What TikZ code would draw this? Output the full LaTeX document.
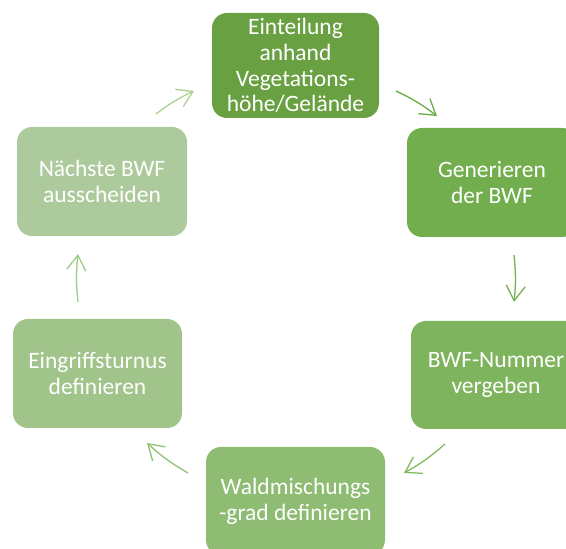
\documentclass[tikz,border=0pt]{standalone}
\usepackage{fontspec}
\setmainfont{Carlito}
\usetikzlibrary{arrows.meta}
\definecolor{bA}{HTML}{69A042}
\definecolor{bB}{HTML}{72AD4E}
\definecolor{bC}{HTML}{7FB45E}
\definecolor{bD}{HTML}{8EBC73}
\definecolor{bE}{HTML}{A0C48A}
\definecolor{bF}{HTML}{ADCA9D}
\definecolor{aA}{HTML}{6AAD45}
\definecolor{aB}{HTML}{74B24F}
\definecolor{aC}{HTML}{80BA60}
\definecolor{aD}{HTML}{8EC272}
\definecolor{aE}{HTML}{A0CB87}
\definecolor{aF}{HTML}{AAD18F}
\tikzset{
  stepbox/.style={rounded corners=15pt, text=white, align=center, inner sep=0pt,
    font=\fontsize{23.5}{25.8}\selectfont},
  cyc/.style={line width=1.3pt, -{Straight Barb[length=15pt,width=19pt,line width=1.3pt]}, bend left=6}
}
\begin{document}
\begin{tikzpicture}[x=1pt,y=1pt]
\useasboundingbox (0,0) rectangle (566,549);
\clip (0,0) rectangle (566,549);
\fill[white] (0,0) rectangle (566,549);
\node[stepbox, fill=bA, minimum width=167pt, minimum height=105pt] (n1) at (295.5,483.5) {Einteilung\\anhand\\Vegetations-\\höhe/Gelände};
\node[stepbox, fill=bB, minimum width=170pt, minimum height=109pt] (n2) at (492,366.5) {Generieren\\der BWF};
\node[stepbox, fill=bC, minimum width=170pt, minimum height=108pt] (n3) at (496,174) {BWF-Nummer\\vergeben};
\node[stepbox, fill=bD, minimum width=179pt, minimum height=108pt] (n4) at (295.5,48) {Waldmischungs\\-grad definieren};
\node[stepbox, fill=bE, minimum width=169pt, minimum height=109pt] (n5) at (97.5,175.5) {Eingriffsturnus\\definieren};
\node[stepbox, fill=bF, minimum width=170pt, minimum height=109pt] (n6) at (102,367.5) {Nächste BWF\\ausscheiden};
\coordinate (s1) at (396,458); \coordinate (e1) at (437,433);
\coordinate (s2) at (514,294); \coordinate (e2) at (514,247);
\coordinate (s3) at (445,105); \coordinate (e3) at (404,76);
\coordinate (s4) at (188,76);  \coordinate (e4) at (147,106);
\coordinate (s5) at (78,247);  \coordinate (e5) at (78,295);
\coordinate (s6) at (156,435); \coordinate (e6) at (194,458);
\draw[cyc, aA] (s1) to (e1);
\draw[cyc, aB] (s2) to (e2);
\draw[cyc, aC] (s3) to (e3);
\draw[cyc, aD] (s4) to (e4);
\draw[cyc, aE] (s5) to (e5);
\draw[cyc, aF] (s6) to (e6);
\end{tikzpicture}
\end{document}
